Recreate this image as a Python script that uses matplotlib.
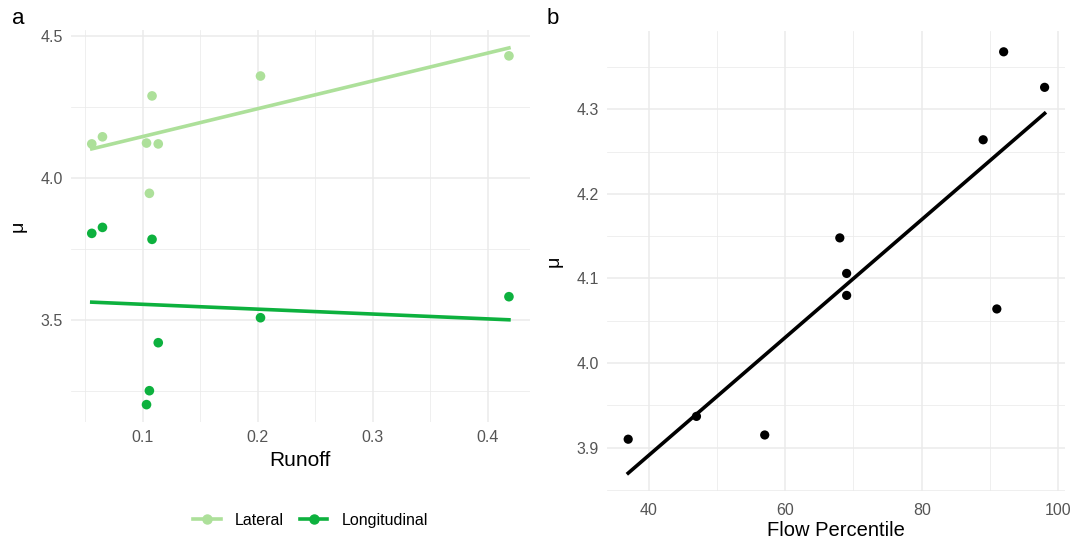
import numpy as np
import matplotlib.pyplot as plt

plt.rcParams['font.family'] = ['Liberation Sans', 'DejaVu Sans']

# panel a data
runoff = [0.0557, 0.0650, 0.1033, 0.1058, 0.1081, 0.1135, 0.2024, 0.4184]
lateral = [4.121, 4.146, 4.124, 3.947, 4.290, 4.121, 4.360, 4.431]
longitudinal = [3.806, 3.827, 3.203, 3.252, 3.785, 3.421, 3.509, 3.583]

# panel b data
flow_pct = [37, 47, 57, 68, 69, 69, 89, 91, 92, 98]
mu_b = [3.910, 3.937, 3.915, 4.148, 4.106, 4.080, 4.264, 4.064, 4.368, 4.326]

col_lat = '#ADE09A'
col_lon = '#0DB13E'
grid_col = '#EBEBEB'
tick_col = '#555555'

fig = plt.figure(figsize=(10.75, 5.39), dpi=100)
ax1 = fig.add_axes([0.066, 0.2177, 0.4268, 0.7266])
ax2 = fig.add_axes([0.565, 0.0894, 0.4261, 0.8531])


def style(ax):
    for s in ax.spines.values():
        s.set_visible(False)
    ax.set_axisbelow(True)
    ax.grid(True, which='major', color=grid_col, linewidth=1.1)
    ax.grid(True, which='minor', color=grid_col, linewidth=0.55)
    ax.tick_params(which='both', length=0, colors=tick_col, labelsize=11.5, pad=6)


# a)
x = np.array(runoff)
for y, c, lab in [(lateral, col_lat, 'Lateral'), (longitudinal, col_lon, 'Longitudinal')]:
    y = np.array(y)
    k, b = np.polyfit(x, y, 1)
    xs = np.array([x.min(), x.max()])
    ax1.plot(xs, k * xs + b, color=c, linewidth=2.6, zorder=2)
    ax1.scatter(x, y, color=c, s=48, zorder=3, edgecolors='none')

ax1.set_xlim(0.0376, 0.4365)
ax1.set_ylim(3.143, 4.522)
ax1.set_xticks([0.1, 0.2, 0.3, 0.4])
ax1.set_xticks([0.05, 0.15, 0.25, 0.35], minor=True)
ax1.set_yticks([3.5, 4.0, 4.5])
ax1.set_yticks([3.25, 3.75, 4.25], minor=True)
style(ax1)
ax1.set_xlabel('Runoff', fontsize=15, labelpad=4)
ax1.set_ylabel('μ', fontsize=14, labelpad=10)

h = [plt.Line2D([], [], color=col_lat, linewidth=2.6, marker='o', markersize=6.5),
     plt.Line2D([], [], color=col_lon, linewidth=2.6, marker='o', markersize=6.5)]
fig.legend(h, ['Lateral', 'Longitudinal'], loc='center', bbox_to_anchor=(0.289, 0.035),
           ncol=2, frameon=False, fontsize=11.5, handlelength=1.7, columnspacing=1.0,
           handletextpad=0.9)

# b)
xb = np.array(flow_pct)
yb = np.array(mu_b)
k, b = np.polyfit(xb, yb, 1)
xs = np.array([xb.min(), xb.max()])
ax2.plot(xs, k * xs + b, color='black', linewidth=2.6, zorder=2)
ax2.scatter(xb, yb, color='black', s=44, zorder=3, edgecolors='none')
ax2.set_xlim(33.95, 101.05)
ax2.set_ylim(3.849, 4.3926)
ax2.set_xticks([40, 60, 80, 100])
ax2.set_xticks([50, 70, 90], minor=True)
ax2.set_yticks([3.9, 4.0, 4.1, 4.2, 4.3])
ax2.set_yticks([3.85, 3.95, 4.05, 4.15, 4.25, 4.35], minor=True)
style(ax2)
ax2.tick_params(axis='x', pad=9)
ax2.set_xlabel('Flow Percentile', fontsize=14.5, labelpad=2)
ax2.set_ylabel('μ', fontsize=14, labelpad=10)

fig.text(0.011, 0.965, 'a', fontsize=16, va='center', ha='left')
fig.text(0.508, 0.965, 'b', fontsize=16, va='center', ha='left')

plt.savefig('out.png', dpi=100)
